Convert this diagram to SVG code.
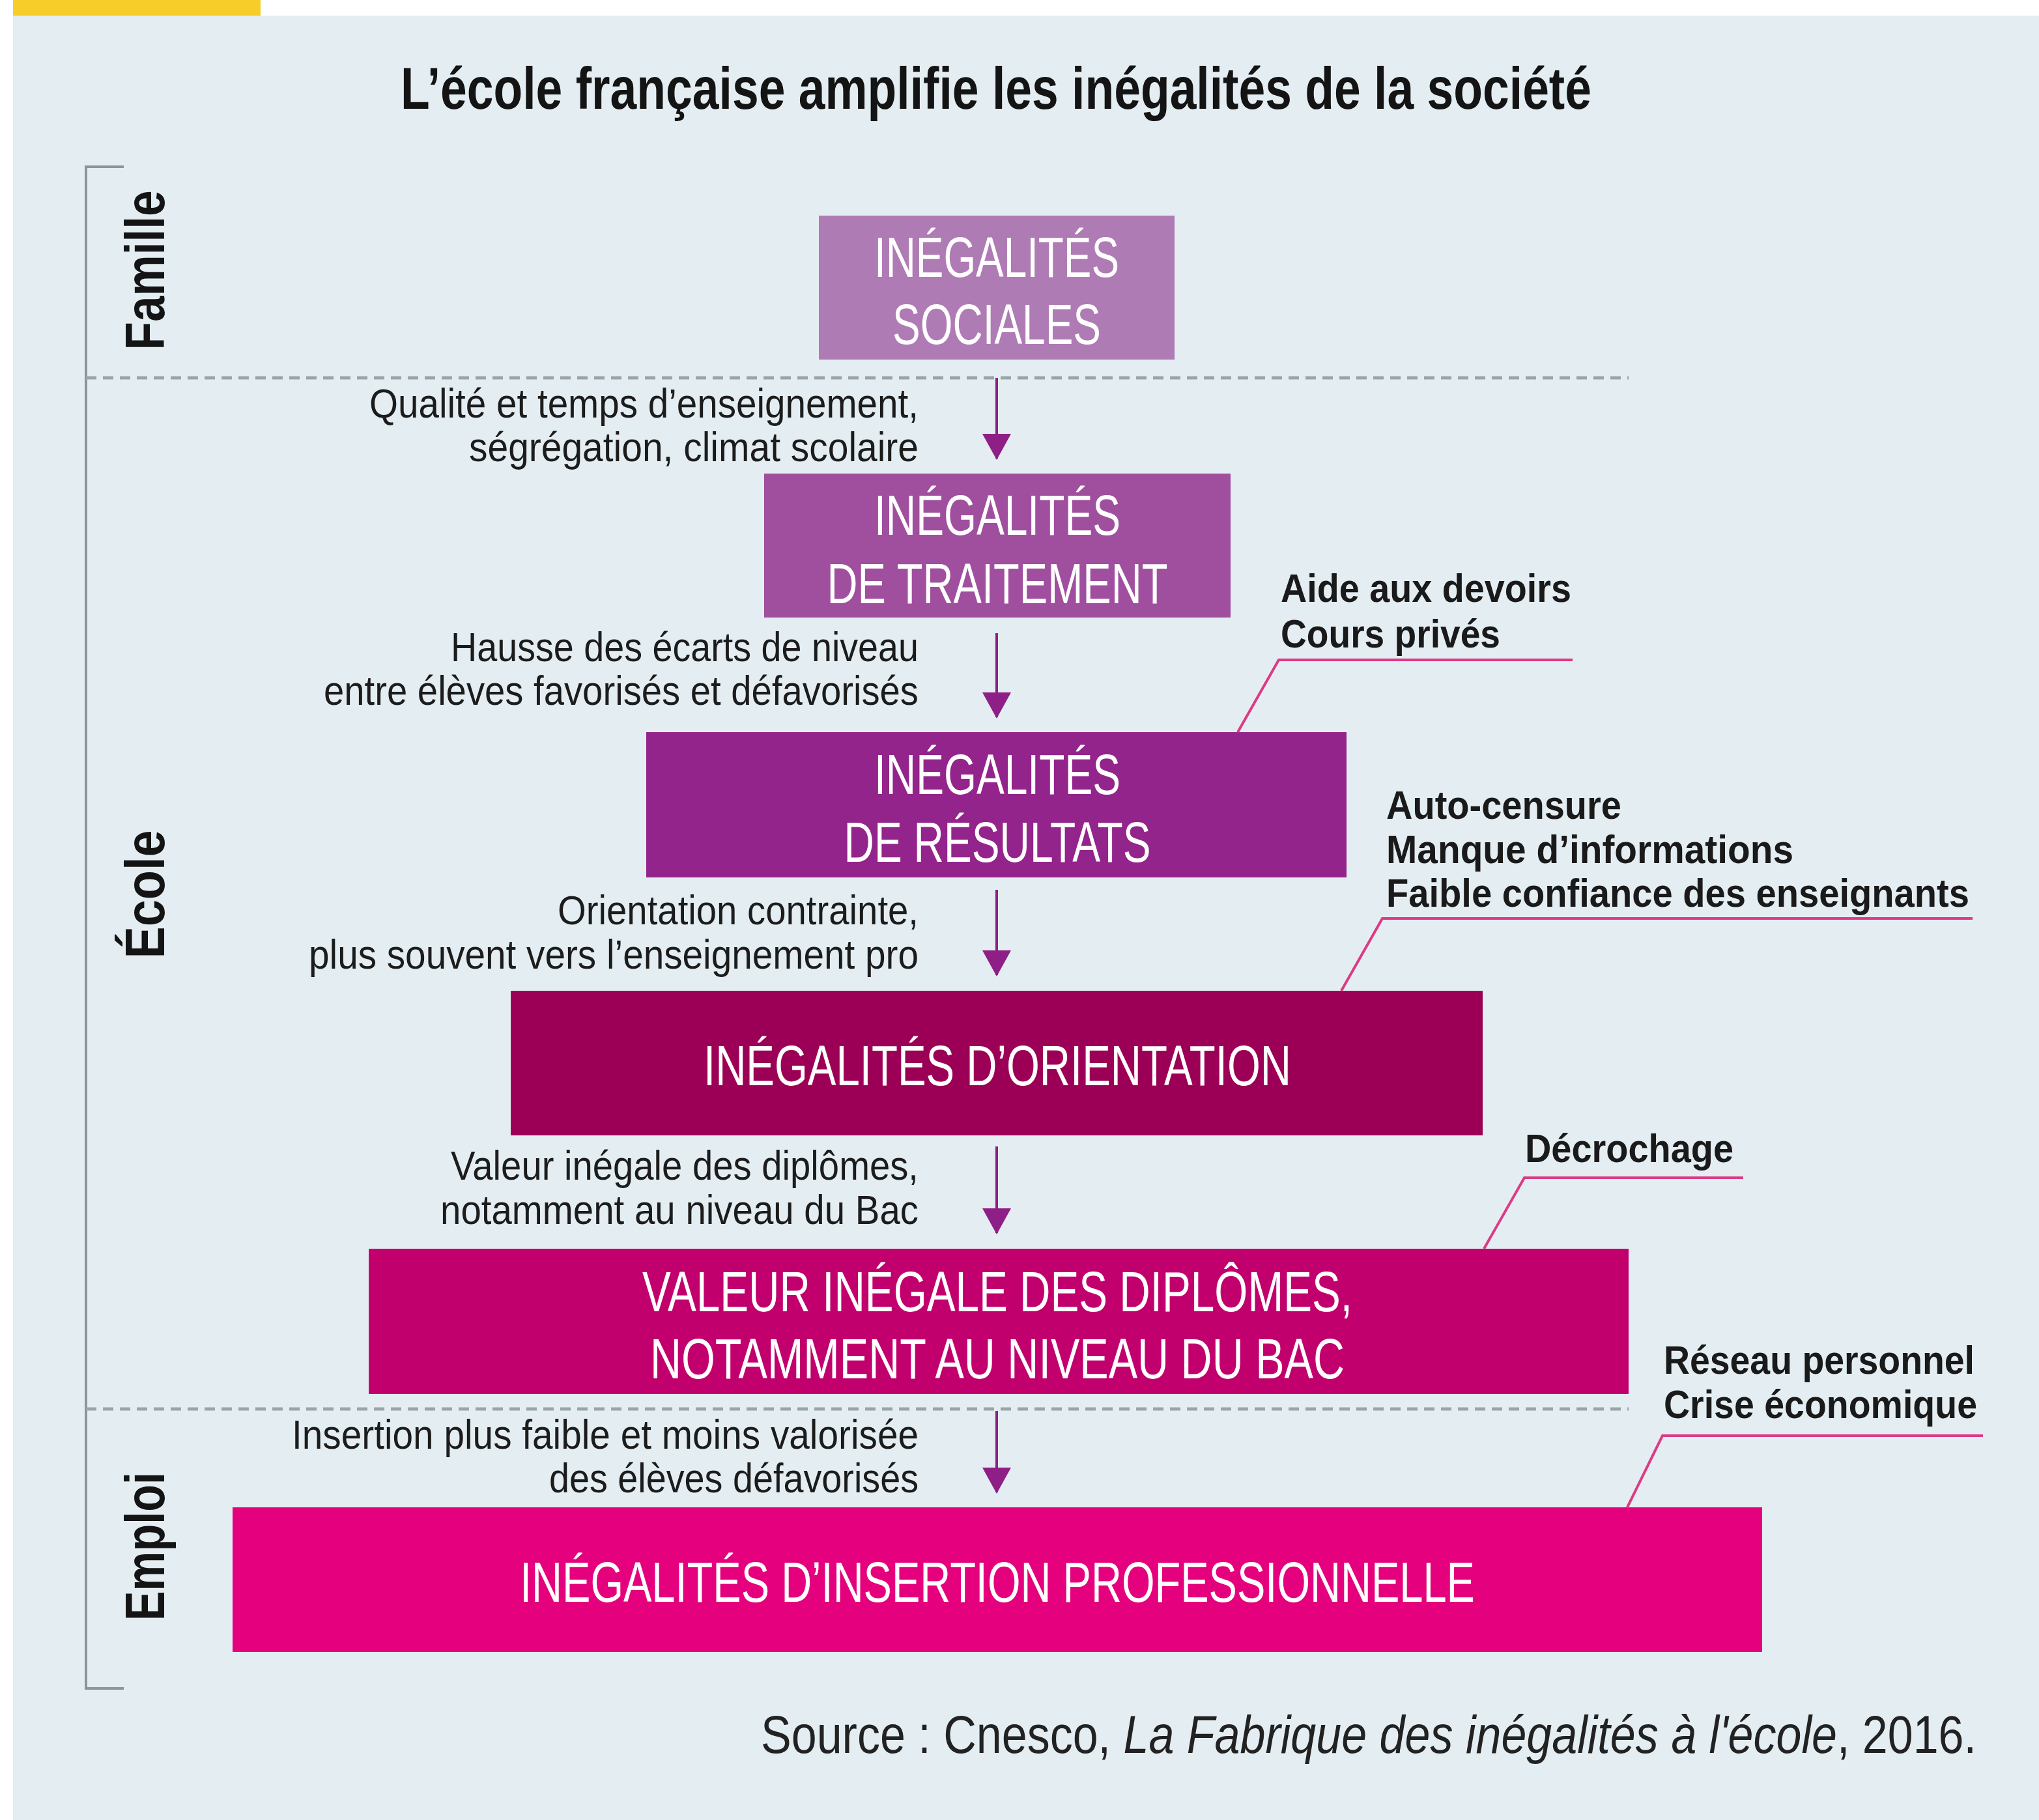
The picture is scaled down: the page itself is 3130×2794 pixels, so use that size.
<svg xmlns="http://www.w3.org/2000/svg" width="3130" height="2794" viewBox="0 0 3130 2794">
<defs>
<style>
.title{font-family:"Liberation Sans",Arial,sans-serif;font-weight:bold;font-size:90px;fill:#141414}
.side{font-family:"Liberation Sans",Arial,sans-serif;font-weight:bold;font-size:86px;fill:#141414}
.box{font-family:"Liberation Sans",Arial,sans-serif;font-size:88px;fill:#ffffff;text-anchor:middle}
.lab{font-family:"Liberation Sans",Arial,sans-serif;font-size:63px;fill:#1c1c1c;text-anchor:end}
.ann{font-family:"Liberation Sans",Arial,sans-serif;font-weight:bold;font-size:62px;fill:#1a1a1a}
.src{font-family:"Liberation Sans",Arial,sans-serif;font-size:82px;fill:#222222}
.dash{stroke:#9aa5aa;stroke-width:5;stroke-dasharray:16 10;fill:none}
.arr{stroke:#8e1f87;stroke-width:4;fill:none;marker-end:url(#head)}
.lead{stroke:#dd3a86;stroke-width:4;fill:none}
</style>
<marker id="head" markerUnits="userSpaceOnUse" viewBox="0 0 40 44" refX="38" refY="22" markerWidth="40" markerHeight="44" orient="auto">
<path d="M0,0 L40,22 L0,44 z" fill="#8e1f87"/>
</marker>
</defs>

<rect x="0" y="0" width="3130" height="2794" fill="#ffffff"/>
<rect x="20" y="24" width="3110" height="2770" fill="#e4eef2"/>
<rect x="20" y="0" width="380" height="24" fill="#f7cd2a"/>

<text class="title" x="1529" y="167" text-anchor="middle" textLength="1828" lengthAdjust="spacingAndGlyphs">L’école française amplifie les inégalités de la société</text>

<g id="bracket">
<path d="M190,256 H132 V2592 H190" stroke="#8c9599" stroke-width="4" fill="none"/>
</g>
<g id="sections">
<text class="side" transform="translate(252,415) rotate(-90)" text-anchor="middle" textLength="245" lengthAdjust="spacingAndGlyphs">Famille</text>
<text class="side" transform="translate(252,1373) rotate(-90)" text-anchor="middle" textLength="197" lengthAdjust="spacingAndGlyphs">École</text>
<text class="side" transform="translate(252,2374) rotate(-90)" text-anchor="middle" textLength="228" lengthAdjust="spacingAndGlyphs">Emploi</text>
</g>
<g id="dividers">
<line class="dash" x1="132" y1="580" x2="2500" y2="580"/>
<line class="dash" x1="132" y1="2163" x2="2500" y2="2163"/>
</g>

<g id="node-sociales">
<rect x="1257" y="331" width="546" height="221" fill="#af7bb4"/>
<text class="box" x="1530" y="425" textLength="376" lengthAdjust="spacingAndGlyphs">INÉGALITÉS</text>
<text class="box" x="1530" y="528" textLength="320" lengthAdjust="spacingAndGlyphs">SOCIALES</text>
</g>
<g id="node-traitement">
<rect x="1173" y="727" width="716" height="221" fill="#a04f9f"/>
<text class="box" x="1531" y="821" textLength="378" lengthAdjust="spacingAndGlyphs">INÉGALITÉS</text>
<text class="box" x="1531" y="926" textLength="523" lengthAdjust="spacingAndGlyphs">DE TRAITEMENT</text>
</g>
<g id="node-resultats">
<rect x="992" y="1124" width="1075" height="223" fill="#93248b"/>
<text class="box" x="1531" y="1219" textLength="378" lengthAdjust="spacingAndGlyphs">INÉGALITÉS</text>
<text class="box" x="1531" y="1323" textLength="471" lengthAdjust="spacingAndGlyphs">DE RÉSULTATS</text>
</g>
<g id="node-orientation">
<rect x="784" y="1521" width="1492" height="222" fill="#9c0056"/>
<text class="box" x="1531" y="1666" textLength="902" lengthAdjust="spacingAndGlyphs">INÉGALITÉS D’ORIENTATION</text>
</g>
<g id="node-diplomes">
<rect x="566" y="1917" width="1934" height="223" fill="#c1006e"/>
<text class="box" x="1531" y="2013" textLength="1090" lengthAdjust="spacingAndGlyphs">VALEUR INÉGALE DES DIPLÔMES,</text>
<text class="box" x="1531" y="2116" textLength="1066" lengthAdjust="spacingAndGlyphs">NOTAMMENT AU NIVEAU DU BAC</text>
</g>
<g id="node-insertion">
<rect x="357" y="2314" width="2348" height="222" fill="#e5007e"/>
<text class="box" x="1531" y="2459" textLength="1466" lengthAdjust="spacingAndGlyphs">INÉGALITÉS D’INSERTION PROFESSIONNELLE</text>
</g>

<g id="connectors">
<line class="arr" x1="1530" y1="580" x2="1530" y2="704"/>
<line class="arr" x1="1530" y1="972" x2="1530" y2="1101"/>
<line class="arr" x1="1530" y1="1366" x2="1530" y2="1497"/>
<line class="arr" x1="1530" y1="1760" x2="1530" y2="1893"/>
<line class="arr" x1="1530" y1="2166" x2="1530" y2="2291"/>
</g>

<g id="edge-labels">
<text class="lab" x="1410" y="641" textLength="843" lengthAdjust="spacingAndGlyphs">Qualité et temps d’enseignement,</text>
<text class="lab" x="1410" y="708" textLength="690" lengthAdjust="spacingAndGlyphs">ségrégation, climat scolaire</text>
<text class="lab" x="1410" y="1015" textLength="718" lengthAdjust="spacingAndGlyphs">Hausse des écarts de niveau</text>
<text class="lab" x="1410" y="1082" textLength="913" lengthAdjust="spacingAndGlyphs">entre élèves favorisés et défavorisés</text>
<text class="lab" x="1410" y="1419" textLength="554" lengthAdjust="spacingAndGlyphs">Orientation contrainte,</text>
<text class="lab" x="1410" y="1487" textLength="936" lengthAdjust="spacingAndGlyphs">plus souvent vers l’enseignement pro</text>
<text class="lab" x="1410" y="1811" textLength="718" lengthAdjust="spacingAndGlyphs">Valeur inégale des diplômes,</text>
<text class="lab" x="1410" y="1879" textLength="734" lengthAdjust="spacingAndGlyphs">notamment au niveau du Bac</text>
<text class="lab" x="1410" y="2224" textLength="962" lengthAdjust="spacingAndGlyphs">Insertion plus faible et moins valorisée</text>
<text class="lab" x="1410" y="2291" textLength="567" lengthAdjust="spacingAndGlyphs">des élèves défavorisés</text>
</g>

<g id="note-devoirs">
<text class="ann" x="1966" y="924" textLength="446" lengthAdjust="spacingAndGlyphs">Aide aux devoirs</text>
<text class="ann" x="1966" y="994" textLength="337" lengthAdjust="spacingAndGlyphs">Cours privés</text>
<path class="lead" d="M2414,1013 H1963 L1900,1124"/>
</g>
<g id="note-orientation">
<text class="ann" x="2128" y="1257" textLength="361" lengthAdjust="spacingAndGlyphs">Auto-censure</text>
<text class="ann" x="2128" y="1325" textLength="625" lengthAdjust="spacingAndGlyphs">Manque d’informations</text>
<text class="ann" x="2128" y="1392" textLength="895" lengthAdjust="spacingAndGlyphs">Faible confiance des enseignants</text>
<path class="lead" d="M3028,1410 H2122 L2059,1521"/>
</g>
<g id="note-decrochage">
<text class="ann" x="2341" y="1784" textLength="320" lengthAdjust="spacingAndGlyphs">Décrochage</text>
<path class="lead" d="M2676,1808 H2340 L2278,1917"/>
</g>
<g id="note-reseau">
<text class="ann" x="2554" y="2109" textLength="477" lengthAdjust="spacingAndGlyphs">Réseau personnel</text>
<text class="ann" x="2554" y="2177" textLength="481" lengthAdjust="spacingAndGlyphs">Crise économique</text>
<path class="lead" d="M3044,2204 H2552 L2498,2314"/>
</g>

<g id="source">
<text class="src" x="1168" y="2691" textLength="1866" lengthAdjust="spacingAndGlyphs">Source : Cnesco, <tspan font-style="italic">La Fabrique des inégalités à l'école</tspan>, 2016.</text>
</g>
</svg>
